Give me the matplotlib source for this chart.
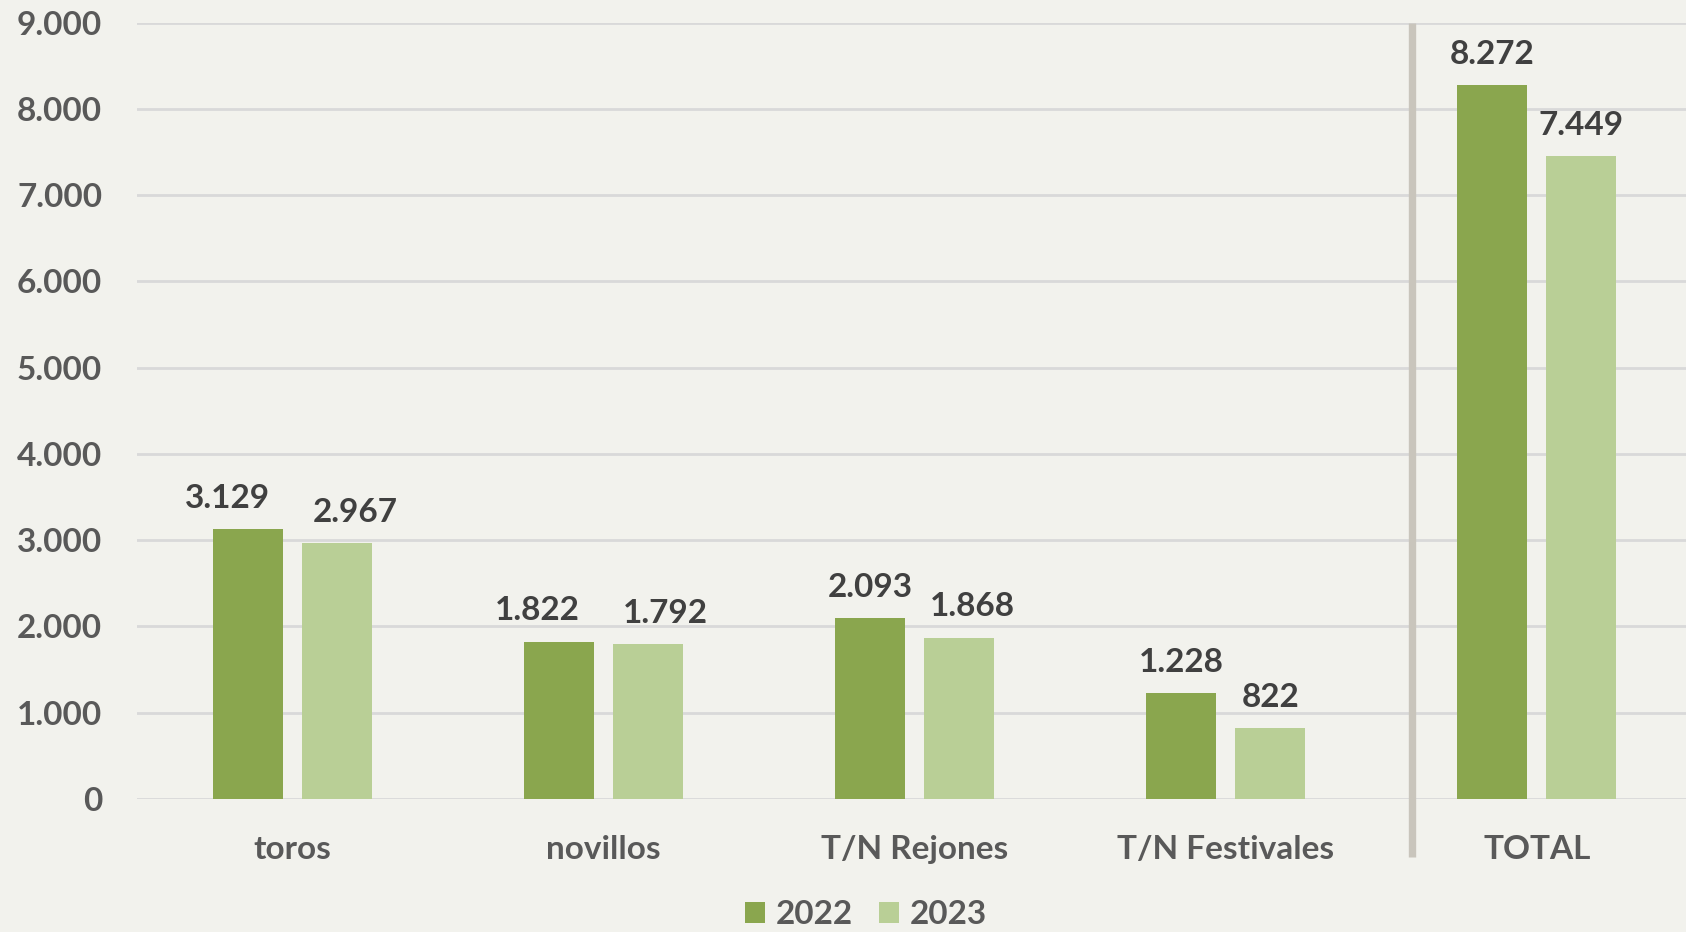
import matplotlib
matplotlib.use("Agg")
import numpy as np
import matplotlib.pyplot as plt
from matplotlib.patches import Patch

categories = ["toros", "novillos", "T/N Rejones", "T/N Festivales", "TOTAL"]
values_2022 = [3129, 1822, 2093, 1228, 8272]
values_2023 = [2967, 1792, 1868, 822, 7449]
years = ["2022", "2023"]

# horizontal nudges of the value labels (pixels), as placed in the original
nudge_2022 = [-21, -22, 0, 0, 0]
nudge_2023 = [18, 17, 13, 0, 0]


def fmt(v):
    return f"{v:,}".replace(",", ".")


plt.rcParams["font.family"] = ["Lato", "DejaVu Sans"]
plt.rcParams["font.weight"] = "bold"

bg = "#f2f2ed"
c22 = "#8aa64e"
c23 = "#b9cf96"
tick_col = "#595959"
val_col = "#404040"

fig = plt.figure(figsize=(16.86, 9.32), dpi=100, facecolor=bg)
ax = fig.add_axes([137 / 1686, 1 - 799 / 932, 1 - 137 / 1686, (799 - 22.6) / 932])
ax.set_facecolor(bg)

x = np.arange(len(categories))
w = 0.225
off = 0.143
b1 = ax.bar(x - off, values_2022, w, color=c22, zorder=3)
b2 = ax.bar(x + off, values_2023, w, color=c23, zorder=3)

for bars, vals, nud in ((b1, values_2022, nudge_2022), (b2, values_2023, nudge_2023)):
    for r, v, n in zip(bars, vals, nud):
        ax.annotate(fmt(v), (r.get_x() + r.get_width() / 2, v),
                    xytext=(n, 31), textcoords="offset pixels",
                    ha="center", va="center", fontsize=24, fontweight="bold",
                    color=val_col, zorder=4)

ax.set_xlim(-0.5, 4.48)
ax.set_ylim(0, 9000)
ax.set_yticks(np.arange(0, 9001, 1000))
ax.set_yticklabels([fmt(v) for v in range(0, 9001, 1000)])
ax.set_xticks(x)
ax.set_xticklabels(categories)
ax.tick_params(axis="y", length=0, pad=25, labelsize=24, labelcolor=tick_col)
ax.tick_params(axis="x", length=0, pad=26, labelsize=24, labelcolor=tick_col)
for lab in ax.get_xticklabels() + ax.get_yticklabels():
    lab.set_fontweight("bold")

ax.grid(axis="y", color="#d9d9d9", linewidth=2, zorder=0)
for s in ax.spines.values():
    s.set_visible(False)

# separator before TOTAL
ax.plot([3.598, 3.598], [9000, -670], color="#c9c5bc", linewidth=5.3,
        clip_on=False, zorder=2, solid_capstyle="butt")

handles = [Patch(facecolor=c22, label=years[0]), Patch(facecolor=c23, label=years[1])]
fig.legend(handles=handles, loc="center", bbox_to_anchor=(866 / 1686, 1 - 915 / 932),
           ncol=2, frameon=False, handlelength=0.6, handleheight=0.6,
           handletextpad=0.3, columnspacing=0.8, labelcolor=tick_col,
           prop={"weight": "bold", "size": 24})

fig.savefig("out.png", dpi=100, facecolor=bg)
